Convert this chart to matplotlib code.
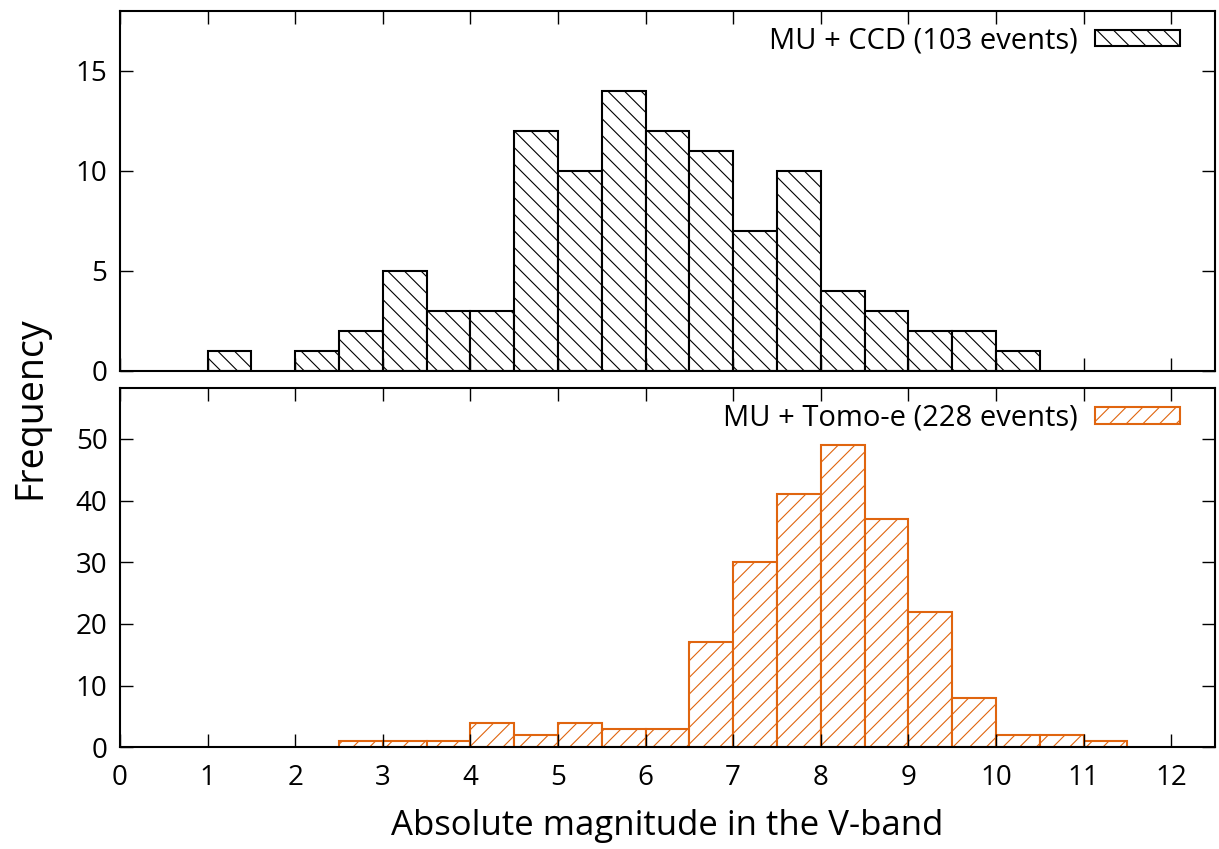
import numpy as np
import matplotlib
matplotlib.use("Agg")
import matplotlib.pyplot as plt

plt.rcParams['font.family'] = ['Open Sans', 'DejaVu Sans']
plt.rcParams['hatch.linewidth'] = 0.8

# bin left edges (width 0.5) and counts
ccd_left = [1.0, 2.0, 2.5, 3.0, 3.5, 4.0, 4.5, 5.0, 5.5, 6.0, 6.5, 7.0, 7.5, 8.0, 8.5, 9.0, 9.5, 10.0]
ccd_counts = [1, 1, 2, 5, 3, 3, 12, 10, 14, 12, 11, 7, 10, 4, 3, 2, 2, 1]

tomo_left = [2.5, 3.0, 3.5, 4.0, 4.5, 5.0, 5.5, 6.0, 6.5, 7.0, 7.5, 8.0, 8.5, 9.0, 9.5, 10.0, 10.5, 11.0]
tomo_counts = [1, 1, 1, 4, 2, 4, 3, 3, 17, 30, 41, 49, 37, 22, 8, 2, 2, 1]

bin_width = 0.5
x_ticks = list(range(0, 13))
ccd_yticks = [0, 5, 10, 15]
tomo_yticks = [0, 10, 20, 30, 40, 50]

ccd_label = "MU + CCD (103 events)"
tomo_label = "MU + Tomo-e (228 events)"
orange = '#e0650f'

fig = plt.figure(figsize=(12.19, 8.49), dpi=100)
ax1 = fig.add_axes([0.0984, 0.5635, 0.8983, 0.4240])
ax2 = fig.add_axes([0.0984, 0.1198, 0.8983, 0.4236])

ax1.bar(ccd_left, ccd_counts, width=bin_width, align='edge', facecolor='white',
        edgecolor='black', linewidth=1.5, hatch='\\\\', label=ccd_label)
ax2.bar(tomo_left, tomo_counts, width=bin_width, align='edge', facecolor='white',
        edgecolor=orange, linewidth=1.5, hatch='//', label=tomo_label)

for ax, yt, ymax in [(ax1, ccd_yticks, 18), (ax2, tomo_yticks, 58.3)]:
    ax.set_xlim(0, 12.5)
    ax.set_ylim(0, ymax)
    ax.set_xticks(x_ticks)
    ax.set_yticks(yt)
    ax.tick_params(direction='in', length=9.5, width=1.0, top=True, right=True,
                   labelsize=20, pad=9)
    ax.tick_params(axis='x', pad=12)
    for s in ax.spines.values():
        s.set_linewidth(1.5)
    ax.legend(loc='upper right', frameon=False, markerfirst=False,
              fontsize=21, handlelength=2.9, handleheight=0.5,
              handletextpad=0.6, borderaxespad=0.8, borderpad=0.3,
              bbox_to_anchor=(0.997, 1.045))

ax1.tick_params(labelbottom=False)
ax2.set_xlabel("Absolute magnitude in the V-band", fontsize=25, labelpad=12)
fig.text(0.025, 0.52, "Frequency", rotation=90, fontsize=27, ha='center', va='center')

fig.savefig("out.png", dpi=100)
